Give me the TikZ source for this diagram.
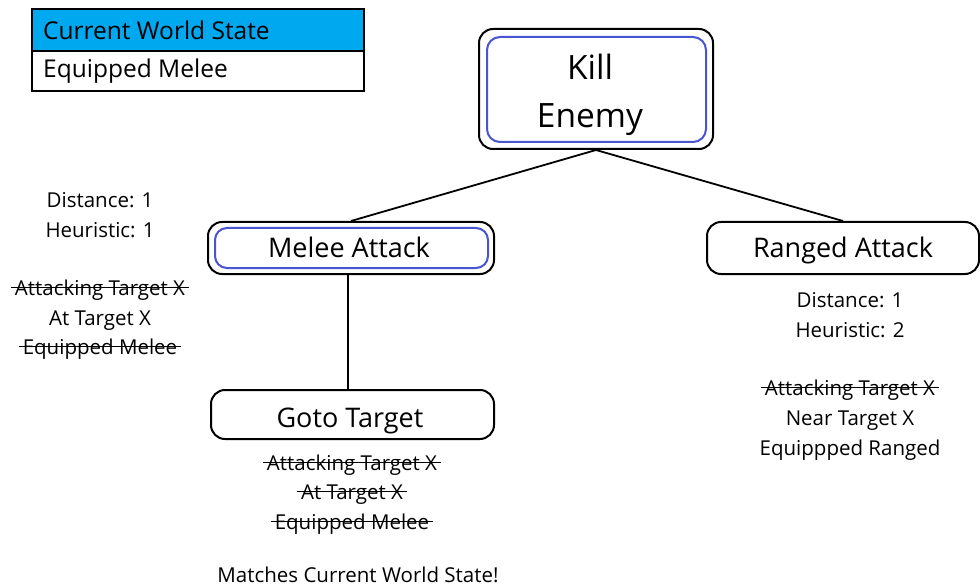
\documentclass[tikz,border=0pt]{standalone}
\usepackage{fontspec}
\setmainfont{Open Sans}
\definecolor{legendblue}{RGB}{0,168,240}
\definecolor{ringblue}{RGB}{72,84,208}
% struck-out text: a rule through the middle of the word, a little wider than it
\newcommand\strk[1]{\setbox0=\hbox{#1}\rlap{\kern-0.2em\rule[0.32em]{\dimexpr\wd0+0.4em\relax}{0.09em}}\box0}
\begin{document}
\begin{tikzpicture}[x=1pt,y=-1pt,
  actbox/.style={draw=black, line width=2pt, rounded corners=14pt, inner sep=0pt},
  ring/.style={draw=ringblue, line width=2pt, rounded corners=12pt, inner sep=0pt},
  acttext/.style={anchor=base, inner sep=0pt, font=\fontsize{27}{30}\selectfont},
  note/.style={anchor=base, inner sep=0pt, font=\fontsize{20.5}{24}\selectfont},
  legendtext/.style={anchor=base west, inner sep=0pt, font=\fontsize{24.5}{28}\selectfont},
  link/.style={draw=black, line width=1.8pt}]
\useasboundingbox (0,0) rectangle (980,588);
\fill[white] (0,0) rectangle (980,588);

% world state legend
\fill[legendblue] (32,9) rectangle (364,51);
\draw[line width=2pt] (32,9) rectangle (364,91);
\draw[line width=1.5pt] (32,51) -- (364,51);
\node[legendtext] (ws) at (43,40) {Current World State};
\node[legendtext] (wsm) at (43,78) {Equipped Melee};

% goal
\node[actbox, minimum width=234pt, minimum height=120pt] (kill) at (596,89) {};
\node[ring, minimum width=219pt, minimum height=105pt, rounded corners=13pt] (killin) at (596.5,89.5) {};
\node[acttext, font=\fontsize{33.5}{36}\selectfont] (killa) at (590,80) {Kill};
\node[acttext, font=\fontsize{33.5}{36}\selectfont] (killb) at (590,128) {Enemy};

% actions
\node[actbox, minimum width=286pt, minimum height=52pt] (melee) at (351,248) {};
\node[ring, minimum width=273pt, minimum height=40pt] (meleein) at (351.5,248) {};
\node[acttext] (meleetxt) at (349,258) {Melee Attack};
\node[actbox, minimum width=272pt, minimum height=52pt] (ranged) at (843,248) {};
\node[acttext] (rangedtxt) at (843,258) {Ranged Attack};
\node[actbox, minimum width=283pt, minimum height=49pt] (goto) at (352.5,414.5) {};
\node[acttext] (gototxt) at (350,427) {Goto Target};

% connectors
\draw[link] (kill.south) -- (melee.north);
\draw[link] (kill.south) -- (ranged.north);
\draw[link] ([xshift=-3pt]melee.south) -- ([xshift=-3pt]melee.south |- goto.north);

% costs and preconditions
\foreach \txt/\y [count=\i] in {{Distance: 1}/208, {Heuristic: 1}/237, {\strk{Attacking Target X}}/295, {At Target X}/325, {\strk{Equipped Melee}}/354}
  \node[note] (meleenote\i) at (100,\y) {\txt};
\foreach \txt/\y [count=\i] in {{Distance: 1}/307, {Heuristic: 2}/337, {\strk{Attacking Target X}}/395, {Near Target X}/425, {Equippped Ranged}/455}
  \node[note] (rangednote\i) at (850,\y) {\txt};
\foreach \txt/\y [count=\i] in {{\strk{Attacking Target X}}/470, {\strk{At Target X}}/499, {\strk{Equipped Melee}}/529}
  \node[note] (gotonote\i) at (352,\y) {\txt};
\node[note] (match) at (358,582) {Matches Current World State!};
\end{tikzpicture}
\end{document}
